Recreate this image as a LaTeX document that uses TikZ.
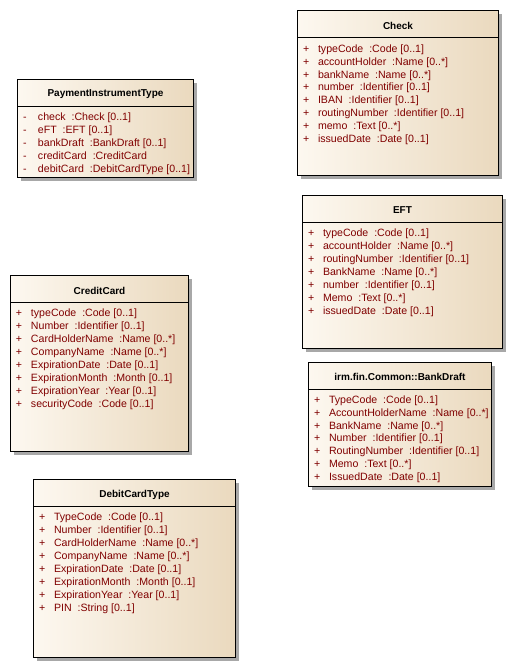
\documentclass[tikz,border=0pt]{standalone}
\usepackage{fontspec}
\setmainfont{Liberation Sans}
\usetikzlibrary{positioning,shadows}
\definecolor{attrred}{RGB}{128,0,0}
\definecolor{boxlight}{RGB}{253,248,240}
\definecolor{boxtan}{RGB}{234,217,190}
\definecolor{shadowgray}{RGB}{168,168,168}
\newcommand{\vis}[1]{\makebox[15pt][l]{#1}}
\tikzset{
  classbox/.style={draw, line width=1pt, anchor=north west, inner sep=0pt,
    left color=boxlight, right color=boxtan,
    drop shadow={shadow xshift=3.5pt, shadow yshift=-3.5pt, fill=shadowgray, opacity=1}},
  classname/.style={font=\fontsize{10}{12}\selectfont\bfseries, inner sep=0pt},
  attr/.style={font=\fontsize{10.6}{12.9}\selectfont, text=attrred, inner sep=0pt, outer sep=0pt,
    text height=10.25pt, text depth=2.65pt, anchor=north west},
  sep/.style={line width=1pt}
}
\begin{document}
\begin{tikzpicture}[x=1pt, y=-1pt]
    \useasboundingbox (0,0) rectangle (514,668);
    % PaymentInstrumentType
    \node (pit) [classbox, minimum width=176pt, minimum height=98pt] at (17,79) {};
    \draw[sep] ([yshift=-27.5pt]pit.north west) -- ([yshift=-27.5pt]pit.north east);
    \node (pitname) [classname] at ([yshift=-15.5pt]pit.north) {PaymentInstrumentType};
    \node (pit1) [attr] at ([xshift=6pt, yshift=-31.5pt]pit.north west) {\vis{-}check~~:Check [0..1]};
    \node (pit2) [attr, below=0pt of pit1.south west, anchor=north west] {\vis{-}eFT~~:EFT [0..1]};
    \node (pit3) [attr, below=0pt of pit2.south west, anchor=north west] {\vis{-}bankDraft~~:BankDraft [0..1]};
    \node (pit4) [attr, below=0pt of pit3.south west, anchor=north west] {\vis{-}creditCard~~:CreditCard};
    \node (pit5) [attr, below=0pt of pit4.south west, anchor=north west] {\vis{-}debitCard~~:DebitCardType [0..1]};
    % Check
    \node (chk) [classbox, minimum width=201pt, minimum height=165pt] at (297,10.5) {};
    \draw[sep] ([yshift=-27.5pt]chk.north west) -- ([yshift=-27.5pt]chk.north east);
    \node (chkname) [classname] at ([yshift=-15.5pt]chk.north) {Check};
    \node (chk1) [attr] at ([xshift=6pt, yshift=-31.5pt]chk.north west) {\vis{+}typeCode~~:Code [0..1]};
    \node (chk2) [attr, below=0pt of chk1.south west, anchor=north west] {\vis{+}accountHolder~~:Name [0..*]};
    \node (chk3) [attr, below=0pt of chk2.south west, anchor=north west] {\vis{+}bankName~~:Name [0..*]};
    \node (chk4) [attr, below=0pt of chk3.south west, anchor=north west] {\vis{+}number~~:Identifier [0..1]};
    \node (chk5) [attr, below=0pt of chk4.south west, anchor=north west] {\vis{+}IBAN~~:Identifier [0..1]};
    \node (chk6) [attr, below=0pt of chk5.south west, anchor=north west] {\vis{+}routingNumber~~:Identifier [0..1]};
    \node (chk7) [attr, below=0pt of chk6.south west, anchor=north west] {\vis{+}memo~~:Text [0..*]};
    \node (chk8) [attr, below=0pt of chk7.south west, anchor=north west] {\vis{+}issuedDate~~:Date [0..1]};
    % EFT
    \node (eft) [classbox, minimum width=200pt, minimum height=153pt] at (302,195) {};
    \draw[sep] ([yshift=-27.5pt]eft.north west) -- ([yshift=-27.5pt]eft.north east);
    \node (eftname) [classname] at ([yshift=-15.5pt]eft.north) {EFT};
    \node (eft1) [attr] at ([xshift=6pt, yshift=-31.5pt]eft.north west) {\vis{+}typeCode~~:Code [0..1]};
    \node (eft2) [attr, below=0pt of eft1.south west, anchor=north west] {\vis{+}accountHolder~~:Name [0..*]};
    \node (eft3) [attr, below=0pt of eft2.south west, anchor=north west] {\vis{+}routingNumber~~:Identifier [0..1]};
    \node (eft4) [attr, below=0pt of eft3.south west, anchor=north west] {\vis{+}BankName~~:Name [0..*]};
    \node (eft5) [attr, below=0pt of eft4.south west, anchor=north west] {\vis{+}number~~:Identifier [0..1]};
    \node (eft6) [attr, below=0pt of eft5.south west, anchor=north west] {\vis{+}Memo~~:Text [0..*]};
    \node (eft7) [attr, below=0pt of eft6.south west, anchor=north west] {\vis{+}issuedDate~~:Date [0..1]};
    % CreditCard
    \node (cc) [classbox, minimum width=178pt, minimum height=176pt] at (10,275) {};
    \draw[sep] ([yshift=-27.5pt]cc.north west) -- ([yshift=-27.5pt]cc.north east);
    \node (ccname) [classname] at ([yshift=-15.5pt]cc.north) {CreditCard};
    \node (cc1) [attr] at ([xshift=6pt, yshift=-31.5pt]cc.north west) {\vis{+}typeCode~~:Code [0..1]};
    \node (cc2) [attr, below=0pt of cc1.south west, anchor=north west] {\vis{+}Number~~:Identifier [0..1]};
    \node (cc3) [attr, below=0pt of cc2.south west, anchor=north west] {\vis{+}CardHolderName~~:Name [0..*]};
    \node (cc4) [attr, below=0pt of cc3.south west, anchor=north west] {\vis{+}CompanyName~~:Name [0..*]};
    \node (cc5) [attr, below=0pt of cc4.south west, anchor=north west] {\vis{+}ExpirationDate~~:Date [0..1]};
    \node (cc6) [attr, below=0pt of cc5.south west, anchor=north west] {\vis{+}ExpirationMonth~~:Month [0..1]};
    \node (cc7) [attr, below=0pt of cc6.south west, anchor=north west] {\vis{+}ExpirationYear~~:Year [0..1]};
    \node (cc8) [attr, below=0pt of cc7.south west, anchor=north west] {\vis{+}securityCode~~:Code [0..1]};
    % DebitCardType
    \node (dct) [classbox, minimum width=202pt, minimum height=178pt] at (33,479) {};
    \draw[sep] ([yshift=-27.5pt]dct.north west) -- ([yshift=-27.5pt]dct.north east);
    \node (dctname) [classname] at ([yshift=-15.5pt]dct.north) {DebitCardType};
    \node (dct1) [attr] at ([xshift=6pt, yshift=-31.5pt]dct.north west) {\vis{+}TypeCode~~:Code [0..1]};
    \node (dct2) [attr, below=0pt of dct1.south west, anchor=north west] {\vis{+}Number~~:Identifier [0..1]};
    \node (dct3) [attr, below=0pt of dct2.south west, anchor=north west] {\vis{+}CardHolderName~~:Name [0..*]};
    \node (dct4) [attr, below=0pt of dct3.south west, anchor=north west] {\vis{+}CompanyName~~:Name [0..*]};
    \node (dct5) [attr, below=0pt of dct4.south west, anchor=north west] {\vis{+}ExpirationDate~~:Date [0..1]};
    \node (dct6) [attr, below=0pt of dct5.south west, anchor=north west] {\vis{+}ExpirationMonth~~:Month [0..1]};
    \node (dct7) [attr, below=0pt of dct6.south west, anchor=north west] {\vis{+}ExpirationYear~~:Year [0..1]};
    \node (dct8) [attr, below=0pt of dct7.south west, anchor=north west] {\vis{+}PIN~~:String [0..1]};
    % irm.fin.Common::BankDraft
    \node (bd) [classbox, minimum width=183pt, minimum height=124pt] at (308,361.5) {};
    \draw[sep] ([yshift=-27.5pt]bd.north west) -- ([yshift=-27.5pt]bd.north east);
    \node (bdname) [classname] at ([yshift=-15.5pt]bd.north) {irm.fin.Common::BankDraft};
    \node (bd1) [attr] at ([xshift=6pt, yshift=-31.5pt]bd.north west) {\vis{+}TypeCode~~:Code [0..1]};
    \node (bd2) [attr, below=0pt of bd1.south west, anchor=north west] {\vis{+}AccountHolderName~~:Name [0..*]};
    \node (bd3) [attr, below=0pt of bd2.south west, anchor=north west] {\vis{+}BankName~~:Name [0..*]};
    \node (bd4) [attr, below=0pt of bd3.south west, anchor=north west] {\vis{+}Number~~:Identifier [0..1]};
    \node (bd5) [attr, below=0pt of bd4.south west, anchor=north west] {\vis{+}RoutingNumber~~:Identifier [0..1]};
    \node (bd6) [attr, below=0pt of bd5.south west, anchor=north west] {\vis{+}Memo~~:Text [0..*]};
    \node (bd7) [attr, below=0pt of bd6.south west, anchor=north west] {\vis{+}IssuedDate~~:Date [0..1]};
\end{tikzpicture}
\end{document}
